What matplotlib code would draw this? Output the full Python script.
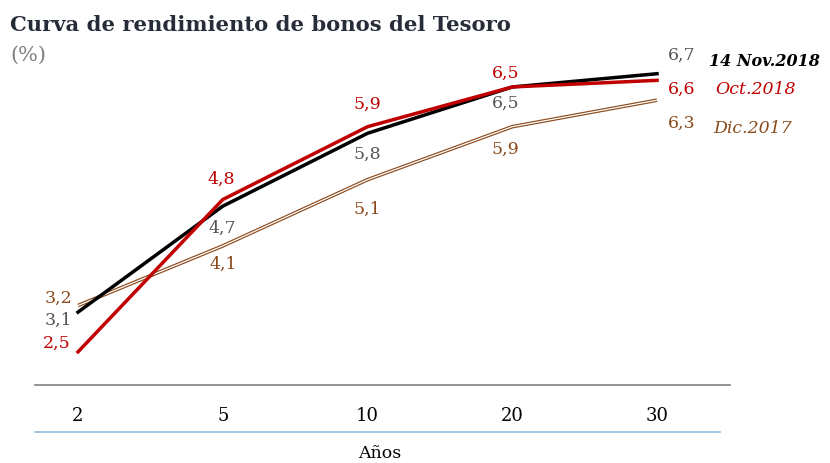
import matplotlib.pyplot as plt
from matplotlib.lines import Line2D

# Datos
plazos = ["2", "5", "10", "20", "30"]
nov2018 = [3.1, 4.7, 5.8, 6.5, 6.7]
oct2018 = [2.5, 4.8, 5.9, 6.5, 6.6]
dic2017 = [3.2, 4.1, 5.1, 5.9, 6.3]

plt.rcParams["font.family"] = ["DejaVu Serif"]

ROJO = "#C00000"
MARRON = "#8B4A1C"
GRIS = "#555555"

fig = plt.figure(figsize=(8.3, 4.63), dpi=100)
ax = fig.add_axes([35 / 830, 1 - 385 / 463, 695 / 830, 325 / 463])

x = list(range(len(plazos)))

# Dic.2017: linea doble (marron con centro blanco)
ax.plot(x, dic2017, color=MARRON, lw=2.6, solid_capstyle="butt", zorder=2)
ax.plot(x, dic2017, color="white", lw=0.9, solid_capstyle="butt", zorder=2.1)
ax.plot(x, nov2018, color="black", lw=2.5, zorder=3)
ax.plot(x, oct2018, color=ROJO, lw=2.5, zorder=4)

ax.set_xlim(-0.297, 4.504)
ax.set_ylim(2.0, 6.907)

fs = 12.5

def etiqueta(xi, v, color, dx, dy, ha="center"):
    ax.annotate(f"{v:.1f}".replace(".", ","), (xi, v), xytext=(dx, dy),
                textcoords="offset points", ha=ha, va="center",
                color=color, fontsize=fs)

# etiquetas de valores (desplazamientos en puntos)
off_nov = [(-4, -6, "right"), (0, -16, "center"), (0, -15, "center"), (-5, -12, "center"), (8, 13.5, "left")]
off_oct = [(-5, 6.5, "right"), (-1, 14.5, "center"), (0, 16, "center"), (-5, 10, "center"), (8, -6.5, "left")]
off_dic = [(-4, 5, "right"), (0, -13, "center"), (0, -21.5, "center"), (-5, -16, "center"), (8, -16.5, "left")]

for i in x:
    dx, dy, ha = off_nov[i]
    etiqueta(i, nov2018[i], GRIS, dx, dy, ha)
    dx, dy, ha = off_oct[i]
    etiqueta(i, oct2018[i], ROJO, dx, dy, ha)
    dx, dy, ha = off_dic[i]
    etiqueta(i, dic2017[i], MARRON, dx, dy, ha)

# nombres de series
fig.text(709 / 830, 1 - 61 / 463, "14 Nov.2018", fontsize=11.5, fontweight="bold",
         fontstyle="italic", color="black", va="center")
fig.text(715 / 830, 1 - 90 / 463, "Oct.2018", fontsize=12.5, fontstyle="italic",
         color=ROJO, va="center")
fig.text(713 / 830, 1 - 128 / 463, "Dic.2017", fontsize=12.5, fontstyle="italic",
         color=MARRON, va="center")

# ejes
for s in ["top", "right", "left"]:
    ax.spines[s].set_visible(False)
ax.spines["bottom"].set_color("#808080")
ax.spines["bottom"].set_linewidth(1.2)
ax.set_yticks([])
ax.set_xticks(x)
ax.set_xticklabels(plazos, fontsize=13)
ax.tick_params(axis="x", length=0, pad=16)

fig.add_artist(Line2D([35 / 830, 720 / 830], [1 - 432 / 463, 1 - 432 / 463],
                      color="#9DC3E6", lw=1.3))
fig.text(380 / 830, 1 - 453 / 463, "Años", fontsize=12.5, ha="center", va="center")

# titulo
fig.text(10 / 830, 1 - 25 / 463, "Curva de rendimiento de bonos del Tesoro",
         fontsize=15.2, fontweight="bold", color="#262C38", va="center")
fig.text(10 / 830, 1 - 55 / 463, "(%)", fontsize=15, color="#808080", va="center")

fig.savefig("out.png", dpi=100)
